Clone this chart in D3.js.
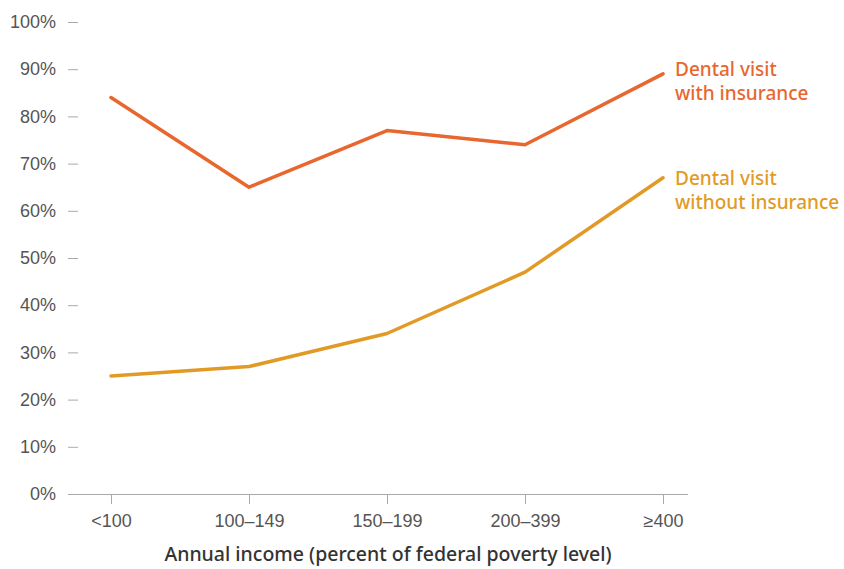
<!DOCTYPE html>
<html>
<head>
<meta charset="utf-8">
<script src="https://cdn.jsdelivr.net/npm/d3@7"></script>
<style>
  body { margin: 0; background: #fff; }
  svg { font-family: "Noto Sans", "Open Sans", sans-serif; }
</style>
</head>
<body>
<svg id="chart" width="844" height="569"></svg>
<script>
// data
var categories = ['<100', '100\u2013149', '150\u2013199', '200\u2013399', '\u2265400'];
var withInsurance = [84, 65, 77, 74, 89];
var withoutInsurance = [25, 27, 34, 47, 67];
var yTicks = [0, 10, 20, 30, 40, 50, 60, 70, 80, 90, 100];
var seriesNames = [['Dental visit', 'with insurance'], ['Dental visit', 'without insurance']];

var svg = d3.select('#chart');
var x = d3.scalePoint().domain(categories).range([111, 663]);
var y = d3.scaleLinear().domain([0, 100]).range([494, 22]);

// y axis: small dashes only, no domain line
var yAxis = svg.append('g')
  .attr('transform', 'translate(78,0)')
  .call(d3.axisLeft(y).tickValues(yTicks).tickSize(10).tickPadding(12)
    .tickFormat(function(d){ return d + '%'; }));
yAxis.select('.domain').remove();
yAxis.selectAll('line').attr('stroke', '#aaa');
yAxis.selectAll('text').attr('fill', '#555').style('font-size', '18px').style('font-weight', 300);

// x axis line + ticks pointing down
var xAxis = svg.append('g')
  .attr('transform', 'translate(0,494)')
  .call(d3.axisBottom(x).tickSize(10).tickPadding(10).tickSizeOuter(0));
xAxis.select('.domain').attr('d', 'M68,0.5H688').attr('stroke', '#aaa');
xAxis.selectAll('line').attr('stroke', '#aaa');
xAxis.selectAll('text').attr('fill', '#555').style('font-size', '18px').style('font-weight', 300);

svg.append('text')
  .attr('x', 388).attr('y', 561)
  .attr('text-anchor', 'middle')
  .attr('fill', '#333')
  .style('font-size', '19.5px')
  .style('font-weight', 500)
  .text('Annual income (percent of federal poverty level)');

var line = d3.line()
  .x(function(d, i){ return x(categories[i]); })
  .y(function(d){ return y(d); });

var colors = ['#E8672E', '#E29A26'];
var labelShift = [2, 7];
[withInsurance, withoutInsurance].forEach(function(s, k){
  svg.append('path')
    .datum(s)
    .attr('d', line)
    .attr('fill', 'none')
    .attr('stroke', colors[k])
    .attr('stroke-width', 3.5)
    .attr('stroke-linecap', 'round')
    .attr('stroke-linejoin', 'round');

  var last = s[s.length - 1];
  var t = svg.append('text')
    .attr('x', 675)
    .attr('y', y(last) + labelShift[k])
    .attr('fill', colors[k])
    .style('font-size', '19px')
    .style('font-weight', 500);
  seriesNames[k].forEach(function(str, j){
    t.append('tspan').attr('x', 675).attr('dy', j ? 24 : 0).text(str);
  });
});
</script>
</body>
</html>
